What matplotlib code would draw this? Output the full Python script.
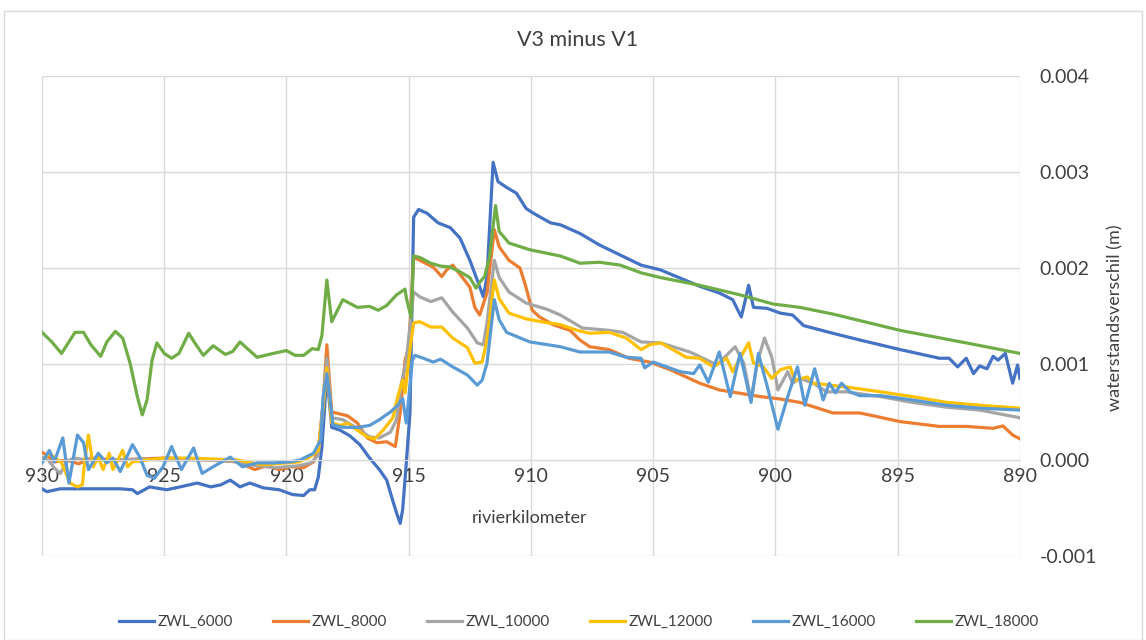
import matplotlib
matplotlib.use("Agg")
import matplotlib.pyplot as plt
from matplotlib.patches import Rectangle
from matplotlib.ticker import FuncFormatter, MultipleLocator

plt.rcParams["font.family"] = ["Lato", "DejaVu Sans"]

# (rivierkilometer, verschil in mm)
zwl_6000 = [
    (930, -0.30), (929.8, -0.33), (929.25, -0.30), (928.7, -0.30), (927.5, -0.30),
    (926.8, -0.30), (926.3, -0.31), (926.1, -0.35), (925.6, -0.28), (924.9, -0.31),
    (924.35, -0.28), (923.65, -0.24), (923.1, -0.28), (922.7, -0.26), (922.3, -0.21),
    (921.9, -0.28), (921.5, -0.24), (920.95, -0.29), (920.3, -0.31), (919.75, -0.36),
    (919.3, -0.37), (919.05, -0.31), (918.85, -0.31), (918.7, -0.18), (918.55, 0.14),
    (918.4, 0.70), (918.35, 0.89), (918.15, 0.34), (917.8, 0.31), (917.4, 0.25),
    (917.0, 0.16), (916.6, 0.02), (916.2, -0.10), (915.9, -0.21), (915.7, -0.385),
    (915.5, -0.55), (915.35, -0.66), (915.25, -0.52), (915.1, -0.03), (914.95, 0.49),
    (914.8, 2.53), (914.6, 2.61), (914.25, 2.57), (913.8, 2.47), (913.3, 2.42),
    (912.9, 2.31), (912.5, 2.08), (912.2, 1.875), (911.95, 1.70), (911.8, 1.91),
    (911.55, 3.10), (911.35, 2.90), (911.0, 2.84), (910.6, 2.78), (910.2, 2.62),
    (909.9, 2.57), (909.2, 2.47), (908.8, 2.45), (908.0, 2.36), (907.2, 2.24),
    (906.35, 2.135), (905.5, 2.03), (904.7, 1.98), (903.9, 1.895), (903.1, 1.81),
    (902.3, 1.74), (901.75, 1.67), (901.4, 1.49), (901.25, 1.65), (901.1, 1.82),
    (900.9, 1.59), (900.35, 1.58), (899.8, 1.53), (899.3, 1.51), (898.85, 1.40),
    (897.65, 1.32), (896.55, 1.25), (894.9, 1.15), (893.3, 1.06), (892.9, 1.06),
    (892.55, 0.97), (892.2, 1.06), (891.9, 0.90), (891.65, 0.98), (891.35, 0.95),
    (891.1, 1.08), (890.9, 1.04), (890.6, 1.11), (890.3, 0.80), (890.1, 0.99),
    (890.0, 0.85),
]

zwl_8000 = [
    (930, 0.08), (929.8, 0.05), (929.5, -0.02), (929.0, 0.0), (928.5, -0.04),
    (928.0, 0.02), (927.0, 0.0), (926.0, 0.01), (925.0, 0.02), (924.0, 0.01),
    (923.0, 0.0), (922.0, -0.02), (921.3, -0.10), (920.8, -0.06), (920.3, -0.10),
    (919.8, -0.07), (919.3, -0.08), (918.9, -0.02), (918.7, 0.10), (918.5, 0.60),
    (918.35, 1.20), (918.15, 0.50), (917.5, 0.46), (917.1, 0.385), (916.7, 0.23),
    (916.3, 0.18), (915.9, 0.19), (915.55, 0.14), (915.35, 0.49), (915.15, 1.04),
    (915.0, 1.17), (914.8, 2.11), (914.55, 2.08), (914.0, 2.01), (913.65, 1.91),
    (913.45, 1.98), (913.2, 2.03), (913.05, 1.98), (912.8, 1.90), (912.5, 1.80),
    (912.3, 1.59), (912.1, 1.51), (911.8, 1.74), (911.5, 2.40), (911.3, 2.22),
    (910.9, 2.08), (910.45, 2.00), (910.25, 1.84), (909.95, 1.56), (909.65, 1.49),
    (909.1, 1.41), (908.4, 1.35), (908.0, 1.25), (907.6, 1.18), (906.8, 1.15),
    (906.0, 1.06), (905.15, 1.02), (904.3, 0.94), (903.1, 0.80), (902.3, 0.73),
    (900.6, 0.66), (899.8, 0.635), (899.0, 0.60), (897.65, 0.49), (896.55, 0.49),
    (894.9, 0.40), (893.3, 0.35), (892.2, 0.35), (891.1, 0.33), (890.7, 0.355),
    (890.3, 0.26), (890.0, 0.22),
]

zwl_10000 = [
    (930, 0.03), (929.75, 0.0), (929.5, -0.08), (929.25, -0.14), (929.0, -0.02),
    (928.7, 0.02), (928.2, 0.0), (927.0, 0.0), (926.0, 0.01), (925.0, 0.0),
    (924.0, 0.0), (923.0, 0.0), (922.0, -0.02), (921.5, -0.05), (920.5, -0.08),
    (919.5, -0.06), (919.0, -0.03), (918.7, 0.05), (918.5, 0.60), (918.35, 1.06),
    (918.15, 0.44), (917.7, 0.42), (917.1, 0.33), (916.6, 0.24), (916.2, 0.23),
    (915.75, 0.29), (915.5, 0.42), (915.3, 0.80), (915.1, 1.04), (914.8, 1.75),
    (914.55, 1.70), (914.1, 1.65), (913.65, 1.69), (913.2, 1.54), (912.6, 1.375),
    (912.2, 1.22), (911.95, 1.20), (911.8, 1.43), (911.5, 2.08), (911.3, 1.90),
    (910.9, 1.75), (910.2, 1.635), (909.35, 1.57), (908.8, 1.51), (907.9, 1.375),
    (906.8, 1.35), (906.25, 1.33), (905.5, 1.23), (904.7, 1.22), (903.5, 1.125),
    (902.8, 1.04), (902.4, 0.99), (901.65, 1.18), (901.3, 1.01), (901.0, 0.625),
    (900.75, 1.01), (900.45, 1.27), (900.15, 1.07), (899.9, 0.73), (899.5, 0.92),
    (899.3, 0.80), (899.0, 0.85), (898.45, 0.80), (897.9, 0.71), (897.1, 0.71),
    (895.7, 0.66), (894.4, 0.60), (893.0, 0.55), (891.65, 0.52), (890.0, 0.44),
]

zwl_12000 = [
    (930, -0.02), (929.7, 0.07), (929.2, -0.03), (928.85, -0.24), (928.55, -0.28),
    (928.35, -0.26), (928.25, 0.0), (928.1, 0.26), (927.9, -0.07), (927.7, 0.03),
    (927.5, -0.10), (927.25, 0.07), (927.1, -0.10), (926.7, 0.10), (926.5, -0.07),
    (926.3, -0.02), (925.7, 0.0), (925.0, 0.02), (924.0, 0.02), (923.0, 0.01),
    (922.0, 0.0), (921.0, -0.05), (920.0, -0.03), (919.5, -0.02), (919.05, 0.03),
    (918.7, 0.10), (918.5, 0.55), (918.35, 0.96), (918.15, 0.385), (917.8, 0.36),
    (917.5, 0.385), (917.1, 0.31), (916.7, 0.24), (916.4, 0.22), (916.05, 0.31),
    (915.65, 0.44), (915.45, 0.66), (915.25, 0.83), (915.15, 0.70), (914.95, 1.15),
    (914.8, 1.43), (914.55, 1.44), (914.1, 1.385), (913.65, 1.385), (913.2, 1.27),
    (912.6, 1.17), (912.3, 1.01), (912.0, 1.02), (911.8, 1.25), (911.5, 1.875),
    (911.3, 1.68), (910.9, 1.53), (910.2, 1.47), (909.35, 1.43), (908.8, 1.41),
    (908.1, 1.35), (907.6, 1.32), (906.8, 1.33), (906.1, 1.27), (905.5, 1.15),
    (905.15, 1.20), (904.7, 1.22), (904.2, 1.15), (903.65, 1.07), (903.1, 1.06),
    (902.55, 0.97), (902.0, 1.06), (901.75, 0.92), (901.1, 1.22), (900.9, 1.01),
    (900.5, 0.97), (900.15, 0.85), (899.8, 0.94), (899.4, 0.97), (899.2, 0.83),
    (898.7, 0.865), (898.45, 0.80), (897.1, 0.76), (895.7, 0.71), (894.4, 0.66),
    (893.0, 0.60), (891.65, 0.57), (890.0, 0.54),
]

zwl_16000 = [
    (930, -0.03), (929.7, 0.10), (929.5, -0.02), (929.15, 0.23), (928.9, -0.24),
    (928.55, 0.26), (928.3, 0.18), (928.1, -0.10), (927.7, 0.07), (927.35, -0.03),
    (927.1, 0.02), (926.8, -0.12), (926.3, 0.16), (926.0, 0.03), (925.7, -0.16),
    (925.4, -0.19), (925.05, -0.07), (924.7, 0.14), (924.3, -0.10), (923.8, 0.125),
    (923.45, -0.14), (923.0, -0.07), (922.3, 0.03), (921.8, -0.07), (921.2, -0.03),
    (920.55, -0.03), (919.85, -0.02), (919.45, 0.0), (918.9, 0.07), (918.6, 0.21),
    (918.5, 0.66), (918.35, 0.90), (918.2, 0.59), (918.1, 0.365), (917.7, 0.34),
    (917.1, 0.34), (916.6, 0.36), (916.2, 0.42), (915.75, 0.50), (915.45, 0.57),
    (915.25, 0.64), (915.1, 0.385), (914.85, 1.04), (914.75, 1.09), (914.4, 1.06),
    (914.0, 1.02), (913.7, 1.05), (913.2, 0.97), (912.6, 0.885), (912.2, 0.78),
    (912.0, 0.83), (911.8, 1.01), (911.5, 1.67), (911.3, 1.46), (911.0, 1.33),
    (910.05, 1.23), (908.8, 1.18), (908.0, 1.125), (906.8, 1.125), (906.1, 1.07),
    (905.5, 1.06), (905.35, 0.96), (905.0, 1.02), (904.45, 0.97), (903.9, 0.92),
    (903.35, 0.90), (903.1, 0.99), (902.75, 0.81), (902.3, 1.125), (901.85, 0.66),
    (901.45, 1.11), (901.0, 0.60), (900.7, 1.11), (900.3, 0.73), (899.9, 0.32),
    (899.5, 0.66), (899.1, 0.97), (898.8, 0.57), (898.4, 0.95), (898.05, 0.625),
    (897.8, 0.80), (897.55, 0.70), (897.3, 0.80), (896.95, 0.71), (896.55, 0.67),
    (895.7, 0.67), (894.4, 0.625), (893.0, 0.57), (891.65, 0.54), (890.0, 0.52),
]

zwl_18000 = [
    (930, 1.33), (929.6, 1.23), (929.2, 1.11), (928.65, 1.33), (928.3, 1.33),
    (928.0, 1.20), (927.6, 1.08), (927.35, 1.23), (927.0, 1.34), (926.7, 1.27),
    (926.4, 1.01), (926.1, 0.66), (925.9, 0.47), (925.7, 0.63), (925.5, 1.04),
    (925.3, 1.22), (925.0, 1.11), (924.7, 1.06), (924.4, 1.11), (924.0, 1.32),
    (923.75, 1.22), (923.4, 1.09), (923.0, 1.19), (922.5, 1.10), (922.2, 1.13),
    (921.9, 1.23), (921.6, 1.16), (921.2, 1.07), (920.55, 1.11), (920.0, 1.14),
    (919.65, 1.09), (919.3, 1.09), (918.95, 1.16), (918.7, 1.15), (918.55, 1.30),
    (918.35, 1.875), (918.15, 1.44), (917.7, 1.67), (917.4, 1.63), (917.1, 1.59),
    (916.6, 1.60), (916.25, 1.56), (915.9, 1.61), (915.5, 1.72), (915.15, 1.78),
    (915.1, 1.69), (914.9, 1.48), (914.8, 2.125), (914.55, 2.11), (914.1, 2.05),
    (913.7, 2.02), (913.3, 2.01), (912.9, 1.96), (912.5, 1.90), (912.25, 1.79),
    (912.1, 1.85), (911.9, 1.91), (911.7, 2.11), (911.45, 2.65), (911.3, 2.38),
    (910.9, 2.26), (910.05, 2.19), (908.8, 2.125), (908.0, 2.05), (907.2, 2.06),
    (906.35, 2.03), (905.5, 1.95), (904.7, 1.90), (903.1, 1.82), (901.45, 1.72),
    (900.1, 1.625), (899.0, 1.59), (897.65, 1.52), (894.9, 1.35), (892.2, 1.22),
    (890.0, 1.11),
]

series_names = ["ZWL_6000", "ZWL_8000", "ZWL_10000", "ZWL_12000", "ZWL_16000", "ZWL_18000"]
series_data = [zwl_6000, zwl_8000, zwl_10000, zwl_12000, zwl_16000, zwl_18000]
colors = ["#4472C4", "#ED7D31", "#A5A5A5", "#FFC000", "#5B9BD5", "#70AD47"]

W, H = 1146, 640
fig = plt.figure(figsize=(W / 100, H / 100), dpi=100)
fig.patches.append(Rectangle((4 / W, 0), 1138 / W, 1 - 11 / H, transform=fig.transFigure,
                             fill=False, edgecolor="#D9D9D9", linewidth=1))

ax = fig.add_axes([42 / W, 1 - 556 / H, 978 / W, 480 / H])
for name, pts, c in zip(series_names, series_data, colors):
    km = [p[0] for p in pts]
    val = [p[1] / 1000 for p in pts]
    ax.plot(km, val, color=c, lw=2.3, label=name, solid_joinstyle="round")

ax.set_xlim(930, 890)
ax.set_ylim(-0.001, 0.004)
ax.xaxis.set_major_locator(MultipleLocator(5))
ax.yaxis.set_major_locator(MultipleLocator(0.001))
ax.yaxis.set_major_formatter(FuncFormatter(lambda v, p: f"{v:.3f}".replace("\u2212", "-")))
ax.grid(True, color="#D9D9D9", lw=1)
ax.set_axisbelow(True)

for s in ["top", "left", "right"]:
    ax.spines[s].set_visible(False)
ax.spines["bottom"].set_position(("data", 0))
ax.spines["bottom"].set_color("#D9D9D9")
ax.yaxis.tick_right()
ax.tick_params(axis="both", length=0, labelsize=14, colors="#404040")
ax.tick_params(axis="x", pad=6)
ax.tick_params(axis="y", pad=14)

fig.text(0.504, 1 - 40 / H, "V3 minus V1", ha="center", va="center", fontsize=15.5, color="#404040")
fig.text(530 / W, 1 - 518 / H, "rivierkilometer", ha="center", va="center", fontsize=13, color="#404040")
fig.text(1115 / W, 1 - 318 / H, "waterstandsverschil (m)", ha="center", va="center",
         rotation=90, fontsize=13, color="#404040")

fig.legend(loc="center", bbox_to_anchor=(0.505, 1 - 622 / H), ncol=6, frameon=False,
           fontsize=11, handlelength=2.3, columnspacing=2.6, handletextpad=0.25,
           labelcolor="#404040")

fig.savefig("out.png", dpi=100)
